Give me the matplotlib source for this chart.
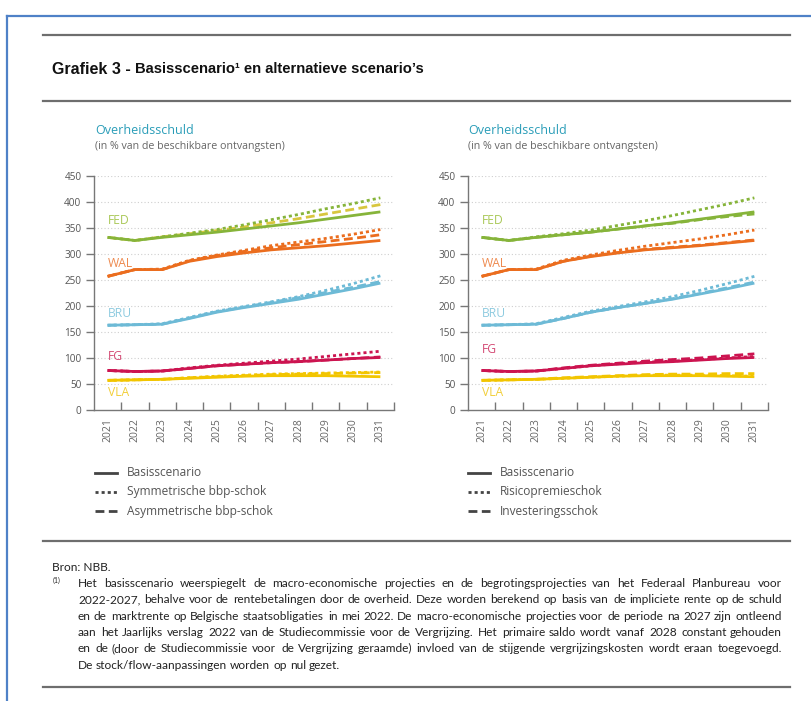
import matplotlib
matplotlib.use("Agg")
import matplotlib.pyplot as plt
from matplotlib.lines import Line2D

# Data (% van de beschikbare ontvangsten)
years = ["2021", "2022", "2023", "2024", "2025", "2026", "2027", "2028", "2029", "2030", "2031"]

fed_base = [332, 326, 332, 337, 342, 348, 354, 360, 367, 374, 381]
fed_sym = [332, 326, 333, 340, 347, 356, 366, 376, 387, 397, 408]
fed_asym = [332, 326, 333, 339, 345, 352, 360, 368, 377, 386, 395]
fed_risk = [332, 326, 333, 339, 346, 355, 364, 374, 385, 396, 408]
fed_inv = [332, 326, 332, 337, 342, 348, 354, 359, 366, 372, 377]

wal_base = [257, 270, 270, 286, 295, 302, 308, 312, 316, 321, 326]
wal_sym = [257, 270, 271, 288, 298, 307, 316, 323, 330, 338, 347]
wal_asym = [257, 270, 270, 287, 297, 305, 312, 318, 324, 330, 337]
wal_risk = [257, 270, 271, 288, 298, 307, 315, 322, 329, 337, 346]
wal_inv = [257, 270, 270, 286, 296, 303, 309, 313, 317, 322, 327]

bru_base = [163, 164, 165, 176, 188, 197, 205, 213, 223, 233, 244]
bru_sym = [163, 164, 166, 178, 190, 199, 208, 218, 230, 243, 258]
bru_asym = [163, 164, 165, 177, 189, 198, 207, 216, 226, 236, 247]
bru_risk = [163, 164, 166, 178, 190, 199, 208, 218, 230, 243, 257]
bru_inv = [163, 164, 165, 176, 188, 197, 205, 214, 224, 235, 246]

fg_base = [76, 74, 75, 80, 85, 88, 91, 93, 96, 99, 101]
fg_sym = [76, 74, 75, 81, 86, 90, 94, 98, 103, 108, 113]
fg_asym = [76, 74, 75, 80, 85, 88, 91, 93, 96, 99, 102]
fg_risk = [76, 74, 75, 80, 85, 89, 92, 94, 97, 100, 103]
fg_inv = [76, 74, 75, 81, 86, 90, 94, 97, 100, 104, 108]

vla_base = [57, 58, 59, 61, 63, 65, 66, 66, 66, 65, 64]
vla_sym = [57, 58, 59, 62, 65, 67, 69, 70, 71, 72, 73]
vla_asym = [57, 58, 59, 62, 64, 66, 68, 69, 70, 71, 72]
vla_risk = [57, 58, 59, 61, 63, 65, 67, 67, 67, 66, 65]
vla_inv = [57, 58, 59, 62, 64, 66, 68, 69, 69, 70, 70]

regions = ["FED", "WAL", "BRU", "FG", "VLA"]
line_colors = ["#86B43A", "#EB6D1E", "#6DBAD6", "#CC1450", "#F2C500"]
label_colors = ["#A9C857", "#EE8A4F", "#8ECBE0", "#D44A74", "#F2CF3A"]
label_y_left = [364, 281, 185, 102, 33]
label_y_right = [364, 281, 185, 116, 33]

legend_left = ["Basisscenario", "Symmetrische bbp-schok", "Asymmetrische bbp-schok"]
legend_right = ["Basisscenario", "Risicopremieschok", "Investeringsschok"]

W, H = 811, 701
fig = plt.figure(figsize=(W / 100, H / 100), dpi=100)
fig.patch.set_facecolor("white")

FONT = "Open Sans"
DOTS = (0, (1.1, 1.1))
DASH = (0, (3.2, 1.6))


def px(x, y):
    """ pixel coords (top-left origin) -> figure fraction """
    return x / W, 1 - y / H


def draw_chart(left_px, series, labels_y, dash_cols):
    x0, y0 = px(left_px, 410)
    ax = fig.add_axes([x0, y0, 300 / W, 234 / H])
    xs = list(range(len(years)))
    for i, (base, dot, dash) in enumerate(series):
        c = line_colors[i]
        ax.plot(xs, dash, color=dash_cols[i], lw=2.0, ls=DASH, zorder=3)
        ax.plot(xs, dot, color=c, lw=2.0, ls=DOTS, zorder=3)
        ax.plot(xs, base, color=c, lw=2.0, zorder=4, solid_capstyle="butt")
        ax.text(0, labels_y[i], regions[i], color=label_colors[i], fontsize=8.7,
                family=FONT, ha="left", va="center")
    ax.set_xlim(-0.5, 10.5)
    ax.set_ylim(0, 450)
    ax.set_yticks(range(0, 451, 50))
    for v in range(50, 451, 50):
        ax.axhline(v, color="#cfcfcf", lw=0.8, ls=(0, (1, 2)), zorder=1)
    ax.set_xticks([i + 0.5 for i in range(11)])
    ax.set_xticklabels([])
    ax.set_xticks(xs, minor=True)
    ax.set_xticklabels(years, minor=True, rotation=90, fontsize=7.5,
                       color="#666666", family=FONT)
    ax.tick_params(axis="x", which="major", direction="in", length=6,
                   color="#777777", width=1)
    ax.tick_params(axis="x", which="minor", length=0, pad=6)
    ax.tick_params(axis="y", direction="out", length=6, color="#777777",
                   width=1, labelsize=7.2, labelcolor="#555555", pad=3)
    for lab in ax.get_yticklabels():
        lab.set_family(FONT)
    for s in ["top", "right"]:
        ax.spines[s].set_visible(False)
    for s in ["left", "bottom"]:
        ax.spines[s].set_color("#777777")
        ax.spines[s].set_linewidth(1)
    ax.patch.set_alpha(0)
    return ax


left_series = [(fed_base, fed_sym, fed_asym), (wal_base, wal_sym, wal_asym),
               (bru_base, bru_sym, bru_asym), (fg_base, fg_sym, fg_asym),
               (vla_base, vla_sym, vla_asym)]
right_series = [(fed_base, fed_risk, fed_inv), (wal_base, wal_risk, wal_inv),
                (bru_base, bru_risk, bru_inv), (fg_base, fg_risk, fg_inv),
                (vla_base, vla_risk, vla_inv)]

draw_chart(94, left_series, label_y_left,
           ["#D8C63E", line_colors[1], line_colors[2], line_colors[3], line_colors[4]])
draw_chart(468, right_series, label_y_right, line_colors)

# chart headings and legends
for lx, legend in [(95, legend_left), (468, legend_right)]:
    fig.text(*px(lx, 130), "Overheidsschuld", color="#2A9DB8", fontsize=9,
             family=FONT, va="center")
    fig.text(*px(lx, 146), "(in % van de beschikbare ontvangsten)", color="#666666",
             fontsize=7.7, family=FONT, va="center")
    for k, (lab, ls) in enumerate(zip(legend, ["-", DOTS, DASH])):
        yy = 473 + k * 19
        xa, ya = px(lx, yy)
        xb, _ = px(lx + 22, yy)
        fig.add_artist(Line2D([xa, xb], [ya, ya], color="#444444", lw=2, ls=ls))
        fig.text(*px(lx + 32, yy), lab, color="#555555", fontsize=8.6,
                 family=FONT, va="center")

# frame and rules
fig.add_artist(Line2D([7 / W, 7 / W], [0, 1 - 16 / H], color="#4F81C7", lw=1.6))
fig.add_artist(Line2D([7 / W, 1], [1 - 16 / H, 1 - 16 / H], color="#4F81C7", lw=1.6))
for ry in [35, 101, 541, 687]:
    fig.add_artist(Line2D([43 / W, 790 / W], [1 - ry / H, 1 - ry / H],
                          color="#6e6e6e", lw=1.6))

TFONT = "Liberation Sans"
t1 = fig.text(*px(52, 69), "Grafiek 3 - ", fontsize=11.5, weight="bold",
              family=TFONT, va="center", color="#111111")
r = fig.canvas.get_renderer()
bb = t1.get_window_extent(r)
fig.text(bb.x1 / W, 1 - 69 / H, "Basisscenario\u00b9 en alternatieve scenario\u2019s",
         fontsize=10.6, weight="bold", family=TFONT, va="center", color="#111111")

# footnote
NFONT = "Lato"
note_lines = [
    "Het basisscenario weerspiegelt de macro-economische projecties en de begrotingsprojecties van het Federaal Planbureau voor",
    "2022-2027, behalve voor de rentebetalingen door de overheid. Deze worden berekend op basis van de impliciete rente op de schuld",
    "en de marktrente op Belgische staatsobligaties in mei 2022. De macro-economische projecties voor de periode na 2027 zijn ontleend",
    "aan het Jaarlijks verslag 2022 van de Studiecommissie voor de Vergrijzing. Het primaire saldo wordt vanaf 2028 constant gehouden",
    "en de (door de Studiecommissie voor de Vergrijzing geraamde) invloed van de stijgende vergrijzingskosten wordt eraan toegevoegd.",
    "De stock/flow-aanpassingen worden op nul gezet.",
]

# pick a size so the widest line just fits the text block
probe = []
for line in note_lines:
    t = fig.text(0, 0, line, fontsize=8, family=NFONT)
    probe.append(t.get_window_extent(r).width)
    t.remove()
NSIZE = round(8 * 700 / max(probe), 1)

fig.text(*px(52, 571), "Bron: NBB.", fontsize=NSIZE, family=NFONT, va="baseline",
         color="#222222")
fig.text(*px(53, 583), "(1)", fontsize=5, family=NFONT, va="baseline", color="#222222")


def justify(line, y, x_left, x_right, last=False):
    """ place words so the line fills x_left..x_right """
    words = line.split()
    widths = []
    for w in words:
        t = fig.text(0, 0, w, fontsize=NSIZE, family=NFONT)
        widths.append(t.get_window_extent(r).width)
        t.remove()
    sp = fig.text(0, 0, "a b", fontsize=NSIZE, family=NFONT)
    sp2 = fig.text(0, 0, "ab", fontsize=NSIZE, family=NFONT)
    space = sp.get_window_extent(r).width - sp2.get_window_extent(r).width
    sp.remove()
    sp2.remove()
    gap = space if last else (x_right - x_left - sum(widths)) / (len(words) - 1)
    x = x_left
    yb = round(H - y)  # baseline on a whole pixel
    for w, wd in zip(words, widths):
        fig.text(round(x) / W, yb / H, w, fontsize=NSIZE, family=NFONT,
                 va="baseline", color="#222222")
        x += wd + gap


for k, line in enumerate(note_lines):
    justify(line, 587 + k * 16.3, 78, 782, last=(k == len(note_lines) - 1))

fig.savefig("out.png", dpi=100, facecolor="white")
